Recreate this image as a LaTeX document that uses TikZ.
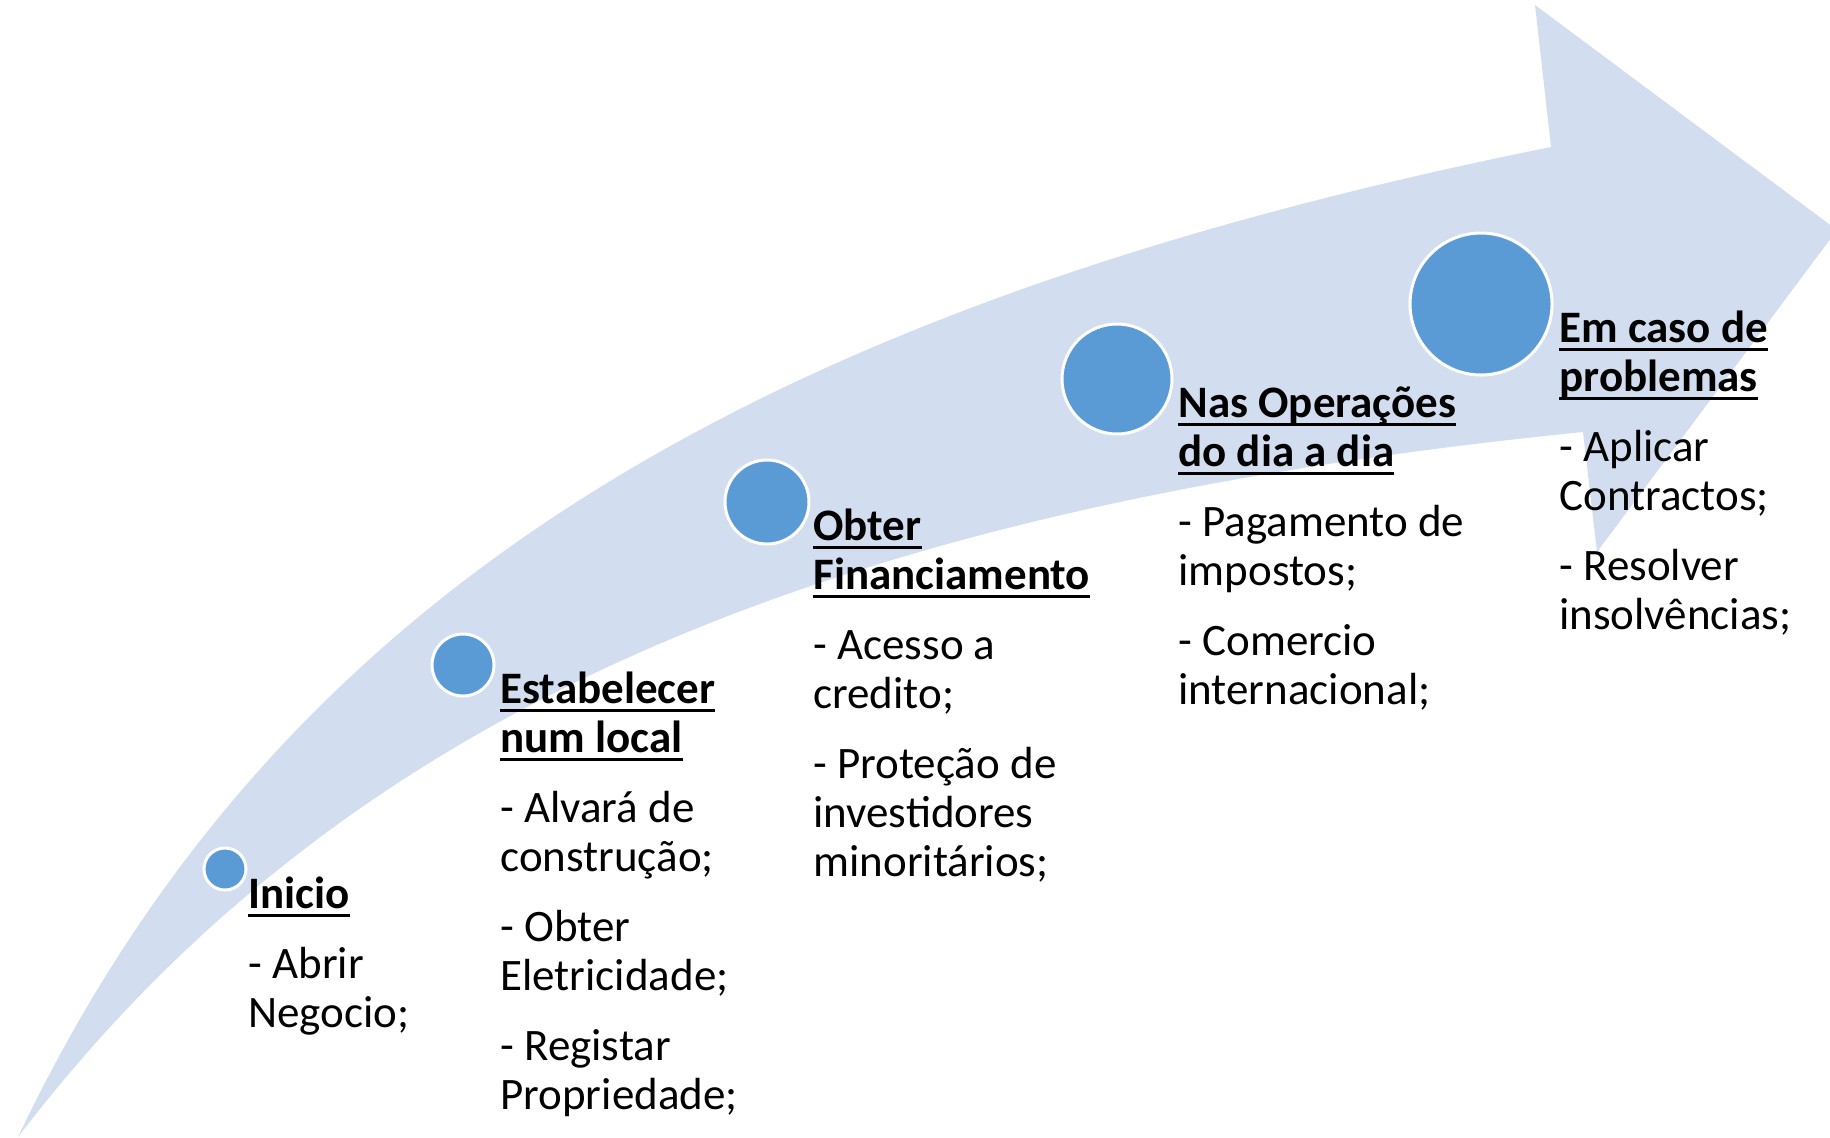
\documentclass[tikz,border=0pt]{standalone}
\usepackage{fontspec}
\setmainfont{Carlito}
\definecolor{bandblue}{HTML}{D2DEEF}
\definecolor{dotblue}{HTML}{5B9BD5}
% bold heading with a word-style underline
\newcommand{\headul}[1]{\setbox0\hbox{\bfseries #1}\rlap{\rule[-0.2em]{\wd0}{0.065em}}\box0}
% lines of a step, hung from the first baseline
\newcommand{\steplines}[1]{\begin{tabular}[t]{@{}l@{}}#1\end{tabular}}
\tikzset{x=0.5pt, y=-0.5pt,
    bandfill/.style={fill=bandblue},
    stepdot/.style={circle, fill=dotblue, draw=white, line width=1.5pt,
        inner sep=0pt, minimum size=#1},
    steptext/.style={anchor=base west, inner sep=0pt,
        font=\fontsize{22.5}{24.5}\selectfont},
    }

\begin{document}
\begin{tikzpicture}
\useasboundingbox (0,0) rectangle (1830,1137);
\clip (0,0) rectangle (1830,1137);
% curved band with its head
\fill[bandfill] (18,1137) .. controls (270,608) and (730,312) .. (1551,147)
    -- (1535,5) -- (1837,230) -- (1597,552) -- (1583,432)
    .. controls (807,510) and (338,719) .. (18,1137) -- cycle;%band
% steps
\node[stepdot=21pt] (inicio) at (225,869) {};
\node[steptext] (inicio text) at (248,908) {\steplines{%
    \headul{Inicio}\\[10.5pt]
    - Abrir\\ Negocio;}};%inicio
\node[stepdot=31pt] (local) at (463,665) {};
\node[steptext] (local text) at (500,703) {\steplines{%
    \headul{Estabelecer}\\ \headul{num local}\\[10.5pt]
    - Alvará de\\ construção;\\[10.5pt]
    - Obter\\ Eletricidade;\\[10.5pt]
    - Registar\\ Propriedade;}};%local
\node[stepdot=42pt] (financ) at (767,502) {};
\node[steptext] (financ text) at (813,540) {\steplines{%
    \headul{Obter}\\ \headul{Financiamento}\\[10.5pt]
    - Acesso a\\ credito;\\[10.5pt]
    - Proteção de\\ investidores\\ minoritários;}};%financ
\node[stepdot=55pt] (oper) at (1117,379) {};
\node[steptext] (oper text) at (1178,417) {\steplines{%
    \headul{Nas Operações}\\ \headul{do dia a dia}\\[10.5pt]
    - Pagamento de\\ impostos;\\[10.5pt]
    - Comercio\\ internacional;}};%oper
\node[stepdot=71pt] (problem) at (1481,304) {};
\node[steptext] (problem text) at (1559,342) {\steplines{%
    \headul{Em caso de}\\ \headul{problemas}\\[10.5pt]
    - Aplicar\\ Contractos;\\[10.5pt]
    - Resolver\\ insolvências;}};%problem
\end{tikzpicture}
\end{document}
